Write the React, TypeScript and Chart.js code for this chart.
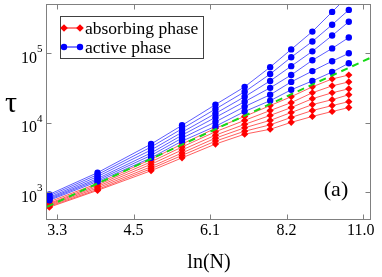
import React, { useEffect, useRef } from "react";
import { Chart, registerables } from "chart.js";

Chart.register(...registerables);

// ln(N) values of the system sizes
const lnN = [3.22, 3.89, 4.8, 5.42, 6.18, 6.93, 7.66, 8.32, 9.04, 9.77, 10.43];

// active phase (blue), top to bottom
const active1 = [937, 1921, 4955, 9216, 18300, 32940, 63300, 113900, 205200, 394200, 687000];
const active2 = [892, 1800, 4493, 8222, 15800, 27980, 50360, 87770, 148000, 257800, 420900];
const active3 = [849, 1687, 4074, 7331, 13640, 23760, 40080, 65400, 106800, 180000, 284400];
const active4 = [822, 1580, 3694, 6647, 11970, 20180, 31880, 48750, 79370, 117700, 168700];
const active5 = [796, 1504, 3404, 6027, 10330, 17140, 25370, 38800, 55540, 76990, 100000];
const active6 = [770, 1432, 3137, 5465, 8920, 14560, 20850, 29870, 40080, 53770, 72130];

// absorbing phase (red), top to bottom
const absorbing1 = [733, 1342, 2987, 4955, 8356, 12370, 17710, 23760, 32940, 42780, 48750];
const absorbing2 = [698, 1277, 2753, 4493, 7452, 10850, 15040, 19530, 27080, 34040, 38800];
const absorbing3 = [676, 1216, 2537, 4074, 6647, 9522, 12780, 16590, 22260, 27080, 30860];
const absorbing4 = [654, 1158, 2338, 3694, 6027, 8494, 10850, 14090, 18300, 21540, 25370];
const absorbing5 = [633, 1103, 2190, 3404, 5465, 7576, 9368, 11970, 15040, 17710, 20180];
const absorbing6 = [613, 1068, 2051, 3137, 4955, 6870, 8088, 10160, 12370, 14560, 16590];

// critical line (green dashed)
const criticalX = [3.19, 11.38];
const criticalY = [621, 86900];

const xTicks = [3.32, 4.48, 6.05, 8.17, 11.02];
const xTickLabels = ["3.3", "4.5", "6.1", "8.2", "11.0"];
const yTicks = [1000, 10000, 100000];
const yTickExp = ["3", "4", "5"];

const X_MIN = 3.19;
const X_MAX = 11.38;
const Y_MIN = 400.7;
const Y_MAX = 512000;

const SERIF = "'Liberation Serif', 'DejaVu Serif', serif";
const RED = "#ff0000";
const BLUE = "#0000ff";
const GREEN = "#16d916";

function toPoints(ys: number[]) {
  return ys.map((v, i) => ({ x: lnN[i], y: v }));
}

const decorPlugin = {
  id: "decor",
  afterDraw(chart: any) {
    const { ctx, chartArea: a, scales } = chart;
    const xs = scales.x;
    const ys = scales.y;
    ctx.save();
    const L = Math.round(a.left) - 0.5;
    const R = Math.round(a.right) - 0.5;
    const T = Math.round(a.top) + 0.5;
    const B = Math.round(a.bottom) - 0.5;
    ctx.strokeStyle = "#808080";
    ctx.lineWidth = 1;
    ctx.strokeRect(L, T, R - L, B - T);
    const tl = 5;
    ctx.beginPath();
    xTicks.forEach((v) => {
      const px = Math.round(xs.getPixelForValue(v)) + 0.5;
      ctx.moveTo(px, B);
      ctx.lineTo(px, B - tl);
      ctx.moveTo(px, T);
      ctx.lineTo(px, T + tl);
    });
    yTicks.forEach((v) => {
      const py = Math.round(ys.getPixelForValue(v)) + 0.5;
      ctx.moveTo(L, py);
      ctx.lineTo(L + tl, py);
      ctx.moveTo(R, py);
      ctx.lineTo(R - tl, py);
    });
    ctx.stroke();

    ctx.fillStyle = "#000";
    ctx.font = `16px ${SERIF}`;
    ctx.textAlign = "center";
    ctx.textBaseline = "middle";
    xTicks.forEach((v, i) => {
      let px = xs.getPixelForValue(v);
      ctx.fillText(xTickLabels[i], i === xTicks.length - 1 ? px - 2 : px, a.bottom + 11);
    });

    yTicks.forEach((v, i) => {
      const py = ys.getPixelForValue(v);
      ctx.font = `16px ${SERIF}`;
      ctx.textAlign = "right";
      ctx.textBaseline = "middle";
      ctx.fillText("10", 37, py + 5);
      ctx.font = `11px ${SERIF}`;
      ctx.textAlign = "left";
      ctx.fillText(yTickExp[i], 37, py - 4);
    });

    // axis titles
    ctx.textAlign = "center";
    ctx.textBaseline = "middle";
    ctx.font = `20px ${SERIF}`;
    ctx.fillText("ln(N)", (a.left + a.right) / 2, 263);
    ctx.font = `30px ${SERIF}`;
    ctx.fillText("\u03c4", 11, 104);
    ctx.font = `22px ${SERIF}`;
    ctx.fillText("(a)", 336, 190);

    // legend
    ctx.fillStyle = "#fff";
    ctx.fillRect(60.5, 16.5, 143, 42);
    ctx.strokeStyle = "#404040";
    ctx.strokeRect(60.5, 16.5, 143, 42);
    const rows = [
      { label: "absorbing phase", color: RED, y: 28, style: "d" },
      { label: "active phase", color: BLUE, y: 47, style: "o" },
    ];
    rows.forEach((r) => {
      ctx.strokeStyle = r.color;
      ctx.lineWidth = 1;
      ctx.beginPath();
      ctx.moveTo(64, r.y);
      ctx.lineTo(80, r.y);
      ctx.stroke();
      ctx.fillStyle = r.color;
      [64, 80].forEach((mx) => {
        ctx.beginPath();
        if (r.style === "o") {
          ctx.arc(mx, r.y, 3.2, 0, Math.PI * 2);
        } else {
          ctx.moveTo(mx, r.y - 3.8);
          ctx.lineTo(mx + 3.8, r.y);
          ctx.lineTo(mx, r.y + 3.8);
          ctx.lineTo(mx - 3.8, r.y);
          ctx.closePath();
        }
        ctx.fill();
      });
      ctx.fillStyle = "#000";
      ctx.font = `17.5px ${SERIF}`;
      ctx.textAlign = "left";
      ctx.textBaseline = "middle";
      ctx.fillText(r.label, 85, r.y + 1);
    });
    ctx.restore();
  },
};

export default function App() {
  const ref = useRef<HTMLCanvasElement | null>(null);
  useEffect(() => {
    document.body.style.margin = "0";
    if (!ref.current) return;
    const activeSets = [active1, active2, active3, active4, active5, active6];
    const absorbingSets = [absorbing1, absorbing2, absorbing3, absorbing4, absorbing5, absorbing6];
    const datasets: any[] = [
      {
        label: "critical",
        data: criticalX.map((x, i) => ({ x, y: criticalY[i] })),
        borderColor: GREEN,
        borderWidth: 2,
        borderDash: [7, 5],
        pointRadius: 0,
        fill: false,
      },
    ];
    activeSets.forEach((s, i) => {
      datasets.push({
        label: `active ${i + 1}`,
        data: toPoints(s),
        borderColor: "rgba(40,40,255,0.75)",
        borderWidth: 1,
        pointRadius: 3.2,
        pointStyle: "circle",
        pointBackgroundColor: BLUE,
        pointBorderColor: BLUE,
        pointBorderWidth: 0,
        fill: false,
      });
    });
    absorbingSets.forEach((s, i) => {
      datasets.push({
        label: `absorbing ${i + 1}`,
        data: toPoints(s),
        borderColor: "rgba(255,40,40,0.75)",
        borderWidth: 1,
        pointRadius: 3.6,
        pointStyle: "rectRot",
        pointBackgroundColor: RED,
        pointBorderColor: RED,
        pointBorderWidth: 0,
        fill: false,
      });
    });
    const chart = new Chart(ref.current, {
      type: "line",
      data: { datasets },
      options: {
        animation: false,
        responsive: false,
        devicePixelRatio: 1,
        parsing: false,
        layout: { padding: { left: 47, right: 11, top: 1, bottom: 57 } },
        plugins: { legend: { display: false }, tooltip: { enabled: false } },
        scales: {
          x: { type: "logarithmic", display: false, min: X_MIN, max: X_MAX },
          y: { type: "logarithmic", display: false, min: Y_MIN, max: Y_MAX },
        },
      } as any,
      plugins: [decorPlugin],
    });
    return () => chart.destroy();
  }, []);
  return (
    <div style={{ width: 382, height: 277, background: "#fff" }}>
      <canvas ref={ref} width={382} height={277} style={{ display: "block" }} />
    </div>
  );
}
